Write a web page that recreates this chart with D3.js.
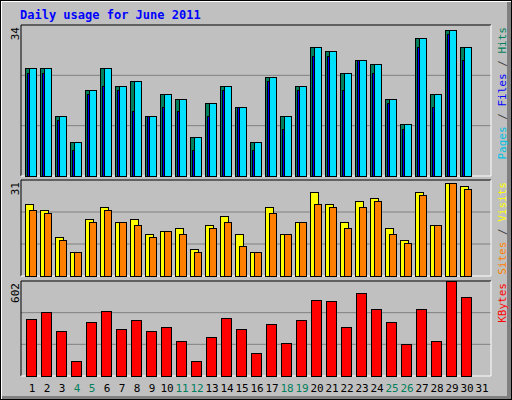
<!DOCTYPE html>
<html><head><meta charset="utf-8">
<script src="https://cdn.jsdelivr.net/npm/d3@7"></script>
<style>body{margin:0;background:#fff}</style>
</head><body><div id="chart"></div>
<script>
// daily values
var days = d3.range(1, 32);
var weekend = [4, 5, 11, 12, 18, 19, 25, 26];
var hits  = [25,25,14,8,20,25,21,22,14,19,18,9,17,21,16,8,23,14,21,30,29,24,27,26,18,12,32,19,34,30,0];
var files = [24,24,13,6,19,21,20,15,14,16,15,6,14,20,16,6,22,11,20,28,28,20,27,24,17,11,30,16,33,27,0];
var pages = hits.slice();
var visits = [24,22,13,8,19,23,18,19,14,15,16,9,17,20,14,8,23,14,18,28,24,18,25,26,16,12,28,17,31,30,0];
var sites  = [22,21,12,8,18,22,18,17,13,15,14,8,16,18,10,8,21,14,18,24,23,16,23,25,14,11,27,17,31,29,0];
var kbytes = [360,406,288,98,340,412,301,353,288,308,222,98,249,366,301,144,327,209,353,484,478,314,530,425,340,203,425,222,602,504,0];

var W = 512, H = 400;
var svg = d3.select("#chart").append("svg").attr("width", W).attr("height", H)
    .style("font-family", "'DejaVu Sans Mono', monospace");

// frame
svg.append("rect").attr("width", W).attr("height", H).attr("fill", "#000");
svg.append("rect").attr("x", 1).attr("y", 1).attr("width", W - 2).attr("height", H - 2).attr("fill", "#fff");
svg.append("rect").attr("x", 2).attr("y", 2).attr("width", W - 3).attr("height", H - 3).attr("fill", "#808080");
svg.append("rect").attr("x", 2).attr("y", 2).attr("width", W - 7).attr("height", H - 6).attr("fill", "#c0c0c0");

svg.append("text").attr("x", 20).attr("y", 19).attr("fill", "#0000ff")
    .attr("font-weight", "bold").attr("font-size", 12).text("Daily usage for June 2011");

var x = d3.scaleLinear().domain([1, 31]).range([25, 475]);
var left = 21, right = 491;

function panel(top, bottom, max, label, legend) {
    svg.append("rect").attr("x", left).attr("y", top).attr("width", right - left).attr("height", bottom - top)
        .attr("fill", "#c0c0c0").attr("stroke", "none");
    var h = bottom - top;
    [1 / 3, 2 / 3].forEach(function(f) {
        svg.append("line").attr("x1", left).attr("x2", right)
            .attr("y1", top + h * f).attr("y2", top + h * f).attr("stroke", "#808080");
    });
    svg.append("path").attr("d", "M" + left + "," + bottom + "V" + top + "H" + right)
        .attr("stroke", "#000").attr("fill", "none");
    svg.append("path").attr("d", "M" + right + "," + top + "V" + bottom + "H" + left)
        .attr("stroke", "#fff").attr("fill", "none");
    svg.append("text").attr("transform", "translate(19," + (top + 2) + ") rotate(-90)")
        .attr("text-anchor", "end").attr("font-size", 11).text(label);
    var t = svg.append("text").attr("transform", "translate(506," + (top + 2) + ") rotate(-90)")
        .attr("text-anchor", "end").attr("font-size", 11);
    legend.forEach(function(p, i) {
        if (i) t.append("tspan").attr("fill", "#404040").text(" / ");
        t.append("tspan").attr("fill", p[1]).text(p[0]);
    });
    return d3.scaleLinear().domain([0, max]).range([bottom, bottom - h * max / (max + 1.1)]);
}

function bars(y, data, dx, w, color) {
    svg.append("g").selectAll("rect").data(data).enter().append("rect")
        .filter(function(d) { return d > 0; })
        .attr("x", function(d, i) { return x(days[i]) + dx + 0.5; })
        .attr("y", function(d) { return Math.round(y(d)) + 0.5; })
        .attr("width", w)
        .attr("height", function(d) { return y.range()[0] - Math.round(y(d)); })
        .attr("fill", color).attr("stroke", "#000");
}

var y1 = panel(25, 176, 34, "34", [["Pages", "#00c0e0"], ["Files", "#0000ff"], ["Hits", "#00805c"]]);
bars(y1, hits, 0, 11, "#00805c");
bars(y1, files, 2, 2, "#0000ff");
bars(y1, pages, 4, 7, "#00e0ff");

var y2 = panel(180, 276, 31, "31", [["Sites", "#ff8000"], ["Visits", "#ffff00"]]);
bars(y2, visits, 0, 8, "#ffff00");
bars(y2, sites, 4, 7, "#ff8000");

var y3 = panel(281, 376, 602, "602", [["KBytes", "#ff0000"]]);
bars(y3, kbytes, 1, 10, "#ff0000");

svg.append("g").selectAll("text").data(days).enter().append("text")
    .attr("x", function(d) { return x(d) + 7; }).attr("y", 392)
    .attr("text-anchor", "middle").attr("font-size", 11)
    .attr("fill", function(d) { return weekend.indexOf(d) >= 0 ? "#00805c" : "#000"; })
    .text(function(d) { return d; });
</script>
</body></html>
